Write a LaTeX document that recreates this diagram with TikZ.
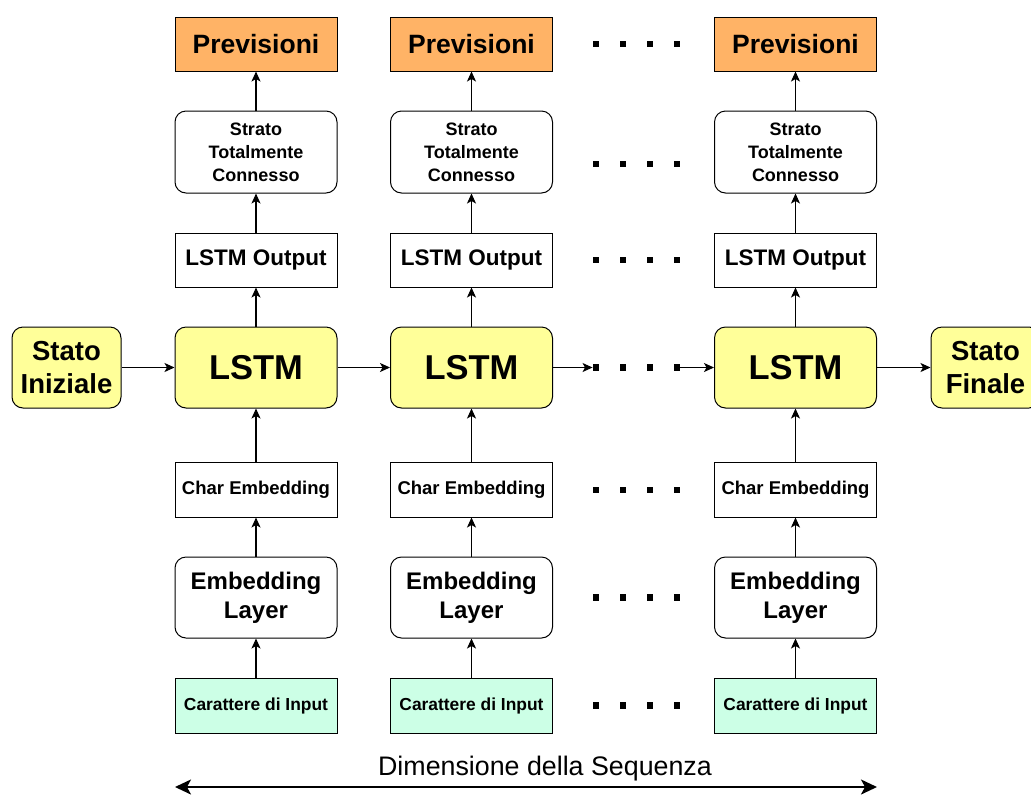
\documentclass[tikz,border=0pt]{standalone}
\usepackage{fontspec}
\setmainfont{Liberation Sans}
\usetikzlibrary{arrows.meta}

\definecolor{predfill}{HTML}{FFB366}
\definecolor{lstmfill}{HTML}{FFFF99}
\definecolor{inpfill}{HTML}{CCFFE6}

\begin{document}
\begin{tikzpicture}[x=1pt,y=-1pt,
  box/.style={draw=black, line width=1pt, inner sep=0pt, align=center, minimum width=162pt},
  sharpbox/.style={box},
  roundbox/.style={box, rounded corners=11pt},
  link/.style={line width=1.1pt, -{Stealth[length=10pt,width=9pt,inset=2.5pt]}},
  dotmark/.style={fill=black, draw=none, minimum size=6.5pt, inner sep=0pt},
  fprev/.style={font=\bfseries\fontsize{26.5}{30}\selectfont},
  ffc/.style={font=\bfseries\fontsize{18}{23}\selectfont},
  fout/.style={font=\bfseries\fontsize{22.5}{26}\selectfont},
  flstm/.style={font=\bfseries\fontsize{34.5}{40}\selectfont},
  fchar/.style={font=\bfseries\fontsize{18.5}{22}\selectfont},
  femb/.style={font=\bfseries\fontsize{24}{29}\selectfont},
  finp/.style={font=\bfseries\fontsize{17.4}{21}\selectfont},
  fstate/.style={font=\bfseries\fontsize{27.5}{33.5}\selectfont},
]
% page frame (the right state box runs past the edge)
\clip (0,0) rectangle (1031,796);

% one column of the unrolled network per time step
\foreach \c/\x in {1/256, 2/471.5, 3/795.5}{
  \node[sharpbox, fill=predfill, minimum height=54pt, fprev] (prev\c) at (\x,44) {Previsioni};
  \node[roundbox, fill=white, minimum height=82pt, ffc] (fc\c) at (\x,152) {Strato\\Totalmente\\Connesso};
  \node[sharpbox, fill=white, minimum height=54pt, fout] (out\c) at (\x,260) {LSTM Output};
  \node[roundbox, fill=lstmfill, minimum height=81pt, flstm] (lstm\c) at (\x,367.5) {LSTM};
  \node[sharpbox, fill=white, minimum height=55pt, fchar] (char\c) at (\x,489.5) {Char Embedding};
  \node[roundbox, fill=white, minimum height=81pt, femb] (emb\c) at (\x,597.5) {Embedding\\Layer};
  \node[sharpbox, fill=inpfill, minimum height=55pt, finp] (inp\c) at (\x,705.5) {Carattere di Input};
  \draw[link] (inp\c) -- (emb\c);
  \draw[link] (emb\c) -- (char\c);
  \draw[link] (char\c) -- (lstm\c);
  \draw[link] (lstm\c) -- (out\c);
  \draw[link] (out\c) -- (fc\c);
  \draw[link] (fc\c) -- (prev\c);
}

% ellipsis between the second and the last step
\foreach \r/\y in {prev/44, fc/164, out/260, lstm/367.5, char/490, emb/597.5, inp/705.5}{
  \foreach \k/\x in {1/596, 2/623, 3/650, 4/677}{
    \node[dotmark] (d\r\k) at (\x,\y) {};
  }
}

% initial and final states
\node[roundbox, fill=lstmfill, minimum width=109pt, minimum height=81pt, fstate] (init) at (66.5,367.5) {Stato\\Iniziale};
\node[roundbox, fill=lstmfill, minimum width=109pt, minimum height=81pt, fstate] (final) at (985.5,367.5) {Stato\\Finale};

% recurrent state flow
\draw[link] (init) -- (lstm1);
\draw[link] (lstm1) -- (lstm2);
\draw[link] (lstm2) -- (dlstm1);
\draw[link] (dlstm4) -- (lstm3);
\draw[link] (lstm3) -- (final);

% sequence length axis
\coordinate (seqL) at (175,787);
\coordinate (seqR) at (877,787);
\draw[line width=2pt, {Stealth[length=16pt,width=15pt,inset=4pt]}-{Stealth[length=16pt,width=15pt,inset=4pt]}] (seqL) -- (seqR);
\node[font=\fontsize{26.8}{31}\selectfont, anchor=base, inner sep=0pt] (seqlabel) at (545,775) {Dimensione della Sequenza};
\end{tikzpicture}
\end{document}
